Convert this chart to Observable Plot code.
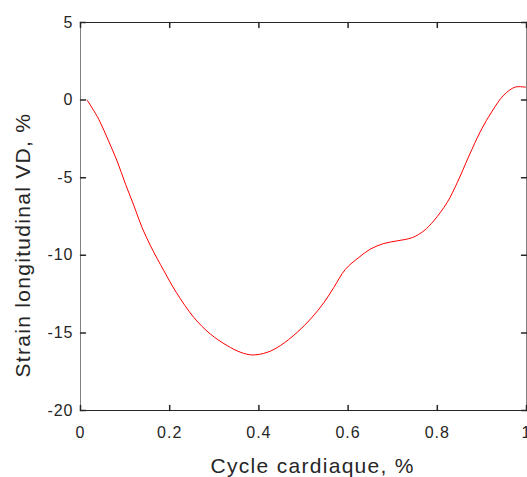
<!DOCTYPE html>
<html><head><meta charset="utf-8">
<script src="https://cdn.jsdelivr.net/npm/d3@7"></script>
<script src="https://cdn.jsdelivr.net/npm/@observablehq/plot@0.6"></script>
<style>body{margin:0;background:#fff}</style>
</head><body><div id="chart"></div>
<script>
const cycle = [0.015,0.041,0.063,0.082,0.101,0.120,0.138,0.157,0.187,0.215,0.254,0.291,0.329,0.359,0.385,0.419,0.448,0.486,0.516,0.546,0.568,0.594,0.624,0.650,0.680,0.710,0.744,0.770,0.792,0.822,0.845,0.871,0.897,0.923,0.949,0.975,1.0];
const strain = [0,-1.24,-2.64,-3.92,-5.42,-6.82,-8.21,-9.39,-11.0,-12.4,-14.0,-15.07,-15.82,-16.25,-16.42,-16.25,-15.82,-14.96,-14.1,-13.04,-12.07,-10.9,-10.14,-9.6,-9.24,-9.07,-8.86,-8.42,-7.78,-6.6,-5.3,-3.6,-2.0,-0.71,0.32,0.84,0.82];
const xTicks = [0,0.2,0.4,0.6,0.8,1];
const xTickLabels = ["0","0.2","0.4","0.6","0.8","1"];
const yTicks = [5,0,-5,-10,-15,-20];
const yTickLabels = ["5","0","-5","-10","-15","-20"];
const xLabel = "Cycle cardiaque, %";
const yLabel = "Strain longitudinal VD, %";

const data = cycle.map((c, i) => ({c, s: strain[i]}));
const ink = "#262626";
const tickShape = {draw(ctx, l) { ctx.moveTo(0, 0); ctx.lineTo(0, -l); }};
const font = "'Liberation Sans', Arial, Helvetica, sans-serif";

const chart = Plot.plot({
  width: 527, height: 477,
  marginLeft: 80, marginRight: 1, marginTop: 22, marginBottom: 67,
  style: {fontFamily: font, color: ink, background: "#fff", overflow: "visible"},
  x: {domain: [0, 1]},
  y: {domain: [-20, 5]},
  marks: [
    Plot.line(data, {x: "c", y: "s", stroke: "#ff0000", strokeWidth: 1, curve: "catmull-rom"}),
    Plot.ruleY([5, -20], {stroke: ink}),
    Plot.ruleX([0, 1], {stroke: "#808080"}),
    Plot.vector(xTicks, {x: d => d, frameAnchor: "bottom", length: 5, anchor: "start", rotate: 0, shape: tickShape, stroke: ink}),
    Plot.vector(xTicks, {x: d => d, frameAnchor: "top", length: 5, anchor: "start", rotate: 180, shape: tickShape, stroke: ink}),
    Plot.vector(yTicks, {y: d => d, frameAnchor: "left", length: 5, anchor: "start", rotate: 90, shape: tickShape, stroke: ink}),
    Plot.vector(yTicks, {y: d => d, frameAnchor: "right", length: 5, anchor: "start", rotate: -90, shape: tickShape, stroke: ink}),
    Plot.axisX({anchor: "bottom", ticks: xTicks, tickFormat: d => xTickLabels[xTicks.indexOf(d)], tickSize: 0, tickPadding: 16, fontSize: 16, label: null}),
    Plot.axisY({anchor: "left", ticks: yTicks, tickFormat: d => yTickLabels[yTicks.indexOf(d)], tickSize: 0, tickPadding: 7, fontSize: 16, label: null}),
    Plot.text([xLabel], {frameAnchor: "bottom-left", dx: 130, dy: 62, textAnchor: "start", lineAnchor: "bottom", fontSize: 21, fill: ink}),
    Plot.text([yLabel], {frameAnchor: "bottom-left", dx: -50.5, dy: -33, rotate: -90, textAnchor: "start", lineAnchor: "bottom", fontSize: 21, fill: ink})
  ]
});
chart.querySelectorAll("text").forEach(t => {
  const s = t.textContent;
  if (s === xLabel || s === yLabel) t.setAttribute("letter-spacing", "1.3");
  else if (xTickLabels.includes(s) || yTickLabels.includes(s)) t.setAttribute("letter-spacing", "1");
});
document.getElementById("chart").appendChild(chart);
</script>
</body></html>
